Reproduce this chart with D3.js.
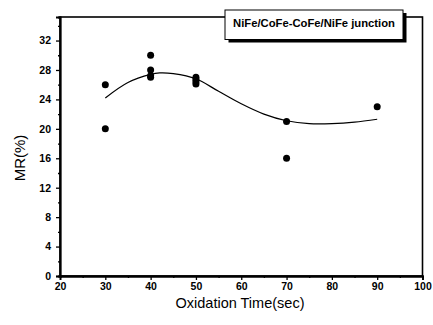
<!DOCTYPE html>
<html><head><meta charset="utf-8">
<script src="https://cdn.jsdelivr.net/npm/d3@7"></script>
<style>body{margin:0;background:#fff}svg{display:block}</style>
</head><body>
<script>
// data
const pointX = [30, 30, 40, 40, 40, 40, 50, 50, 50, 50, 70, 70, 90];
const pointY = [26, 20, 30, 28, 27, 27.2, 27, 26.7, 26.4, 26.1, 21, 16, 23];
const fitX = [30, 35, 40, 42, 45, 50, 55, 60, 65, 70, 75, 80, 85, 90];
const fitY = [24.2, 26.3, 27.4, 27.6, 27.5, 26.8, 25.1, 23.4, 22.0, 21.1, 20.7, 20.7, 20.9, 21.3];
const xTicks = [20, 30, 40, 50, 60, 70, 80, 90, 100];
const yTicks = [0, 4, 8, 12, 16, 20, 24, 28, 32];
const legendLabel = "NiFe/CoFe-CoFe/NiFe junction";
const xTitle = "Oxidation Time(sec)";
const yTitle = "MR(%)";

const W = 433, H = 325;
const m = {l: 60, r: 10.5, t: 17, b: 49};
const svg = d3.select("body").append("svg").attr("width", W).attr("height", H);
const x = d3.scaleLinear().domain([20, 100]).range([m.l, W - m.r]);
const y = d3.scaleLinear().domain([0, 35.2]).range([H - m.b, m.t]);

const font = "Arial, 'Liberation Sans', sans-serif";

// frame
svg.append("rect").attr("x", x(20)).attr("y", y(35.2)).attr("width", x(100) - x(20)).attr("height", y(0) - y(35.2))
  .attr("fill", "none").attr("stroke", "#000").attr("stroke-width", 1.6);

// axes
const xAxis = svg.append("g").attr("transform", `translate(0,${y(0)})`)
  .call(d3.axisBottom(x).tickValues(xTicks).tickSize(4).tickPadding(3));
const yAxis = svg.append("g").attr("transform", `translate(${x(20)},0)`)
  .call(d3.axisLeft(y).tickValues(yTicks).tickSize(4).tickPadding(5));
// minor ticks
svg.append("g").attr("transform", `translate(0,${y(0)})`)
  .call(d3.axisBottom(x).tickValues(d3.range(25, 100, 10)).tickSize(2).tickFormat(""));
svg.append("g").attr("transform", `translate(${x(20)},0)`)
  .call(d3.axisLeft(y).tickValues(d3.range(2, 35, 4)).tickSize(2).tickFormat(""));
svg.selectAll(".domain").attr("stroke-width", 1.8);
svg.selectAll(".tick line").attr("stroke-width", 1.3);
[xAxis, yAxis].forEach(g => g.selectAll("text").attr("font-family", font).attr("font-size", 10.5).attr("font-weight", "bold").attr("fill", "#000"));

// fit curve
const fit = fitX.map((d, i) => [d, fitY[i]]);
svg.append("path").datum(fit)
  .attr("d", d3.line().x(d => x(d[0])).y(d => y(d[1])).curve(d3.curveCatmullRom))
  .attr("fill", "none").attr("stroke", "#000").attr("stroke-width", 1.2);

// points
svg.append("g").selectAll("circle").data(pointX.map((d, i) => [d, pointY[i]])).join("circle")
  .attr("cx", d => x(d[0])).attr("cy", d => y(d[1])).attr("r", 3.5).attr("fill", "#000");

// titles
svg.append("text").attr("x", 240).attr("y", 307.5).attr("text-anchor", "middle")
  .attr("font-family", font).attr("font-size", 14.5).text(xTitle);
svg.append("text").attr("transform", `translate(25,158) rotate(-90)`).attr("text-anchor", "middle")
  .attr("font-family", font).attr("font-size", 15).text(yTitle);

// legend box with shadow
const lb = {x: 225, y: 10, w: 178, h: 29.5};
svg.append("rect").attr("x", lb.x + 3.5).attr("y", lb.y + 3).attr("width", lb.w).attr("height", lb.h).attr("fill", "#000");
svg.append("rect").attr("x", lb.x).attr("y", lb.y).attr("width", lb.w).attr("height", lb.h).attr("fill", "#fff").attr("stroke", "#000").attr("stroke-width", 1);
svg.append("text").attr("x", lb.x + 8).attr("y", lb.y + 17)
  .attr("font-family", font).attr("font-size", 11).attr("font-weight", "bold")
  .attr("textLength", 162).attr("lengthAdjust", "spacingAndGlyphs").text(legendLabel);
</script>
</body></html>
